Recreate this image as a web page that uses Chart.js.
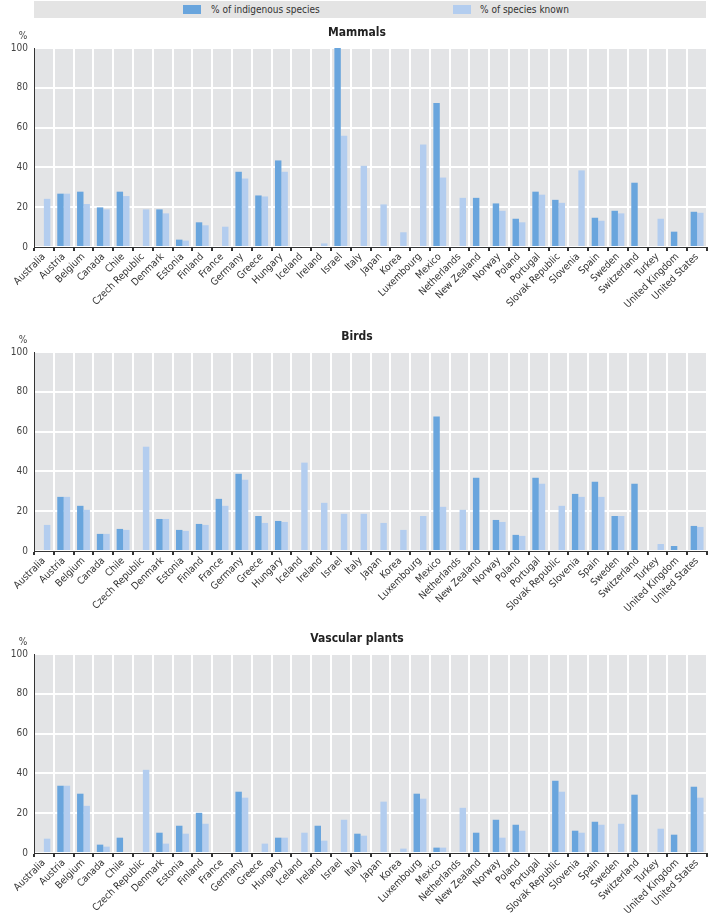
<!DOCTYPE html>
<html>
<head>
<meta charset="utf-8">
<script src="https://cdn.jsdelivr.net/npm/chart.js@4"></script>
<style>
    body { margin: 0; background: #fff; width: 720px; height: 917px; position: relative; overflow: hidden; }
    .legende {
        position: absolute; left: 34px; top: 1px; width: 672px; height: 17px;
        background: #e4e4e4; font: 10px "Liberation Sans Narrow", "DejaVu Sans Condensed", Arial, sans-serif; color: #333;
    }
    .legende span { position: absolute; top: 3px; }
    .legende i { position: absolute; top: 4px; width: 18px; height: 9px; }
    .painel { position: absolute; left: 0; width: 720px; height: 302px; }
</style>
</head>
<body>
<div class="legende">
    <i style="left:149px;background:#69a5dd"></i><span style="left:177px">% of indigenous species</span>
    <i style="left:419px;background:#b3cdef"></i><span style="left:446px">% of species known</span>
</div>
<div class="painel" style="top:20px"><canvas id="graficoMamiferos"></canvas></div>
<div class="painel" style="top:324px"><canvas id="graficoAves"></canvas></div>
<div class="painel" style="top:626px"><canvas id="graficoPlantas"></canvas></div>
<script>
const paises = ["Australia", "Austria", "Belgium", "Canada", "Chile", "Czech Republic", "Denmark", "Estonia",
    "Finland", "France", "Germany", "Greece", "Hungary", "Iceland", "Ireland", "Israel", "Italy", "Japan",
    "Korea", "Luxembourg", "Mexico", "Netherlands", "New Zealand", "Norway", "Poland", "Portugal",
    "Slovak Republic", "Slovenia", "Spain", "Sweden", "Switzerland", "Turkey", "United Kingdom", "United States"];

const ticksY = [0, 20, 40, 60, 80, 100];

const mamiferosIndigenas = [null, 26.8, 27.8, 19.9, 27.8, null, 18.9, 3.7, 12.4, null, 37.8, 25.9, 43.5, null, null, 100,
    null, null, null, null, 72.4, null, 24.7, 21.9, 14.2, 27.8, 23.7, null, 14.7, 18.2, 32.3, null, 7.7, 17.7];
const mamiferosConhecidas = [24.2, 26.8, 21.6, 18.9, 25.6, 18.9, 16.9, 3.2, 10.9, 10.2, 34.4, 25.4, 37.8, null, 1.8, 55.9,
    40.8, 21.4, 7.4, 51.5, 34.9, 24.7, null, 18.2, 12.4, 26.3, 22.2, 38.5, 13.2, 16.9, null, 14.2, null, 17.2];

const avesIndigenas = [null, 27.2, 22.7, 8.6, 11.1, null, 16.1, 10.6, 13.6, 26.2, 38.8, 17.6, 15.1, null, null, null,
    null, null, null, null, 67.6, null, 36.8, 15.6, 8.1, 36.8, null, 28.7, 34.8, 17.6, 33.8, null, 2.5, 12.6];
const avesConhecidas = [13.1, 27.2, 20.7, 8.6, 10.6, 52.4, 16.1, 10.1, 13.1, 22.7, 35.8, 14.1, 14.6, 44.4, 24.2, 18.7,
    18.7, 14.1, 10.6, 17.6, 22.2, 20.7, null, 14.6, 7.6, 33.8, 22.7, 27.2, 27.2, 17.6, null, 3.5, null, 12.1];

const plantasIndigenas = [null, 33.8, 29.8, 4.2, 7.7, null, 10.2, 13.7, 20.2, null, 30.8, null, 7.7, null, 13.7, null,
    9.7, null, null, 29.8, 2.7, null, 10.2, 16.7, 14.2, null, 36.3, 11.2, 15.7, null, 29.3, null, 9.2, 33.3];
const plantasConhecidas = [7.2, 33.8, 23.7, 3.2, null, 41.8, 4.7, 9.7, 14.7, null, 27.8, 4.7, 7.7, 10.2, 6.2, 16.7,
    8.7, 25.8, 2.2, 27.3, 2.7, 22.7, null, 7.7, 11.2, null, 30.8, 10.2, 14.2, 14.7, null, 12.2, null, 27.8];

const FONTE = "'Liberation Sans Narrow', 'DejaVu Sans Condensed', Arial, sans-serif";

// fundo cinza da area do grafico + titulo + "%"
const decoracaoPainel = {
    id: "decoracaoPainel",
    beforeDraw(chart, args, opts) {
        const { ctx, chartArea } = chart;
        ctx.save();
        ctx.fillStyle = "#e3e4e6";
        ctx.fillRect(chartArea.left, chartArea.top, chartArea.right - chartArea.left, chartArea.bottom - chartArea.top);
        ctx.restore();
    },
    afterDraw(chart, args, opts) {
        const { ctx, chartArea } = chart;
        ctx.save();
        ctx.textAlign = "center";
        ctx.textBaseline = "middle";
        ctx.fillStyle = "#222";
        ctx.font = "bold 12px " + FONTE;
        ctx.fillText(opts.titulo, 357, chartArea.top - 15);
        ctx.fillStyle = "#444";
        ctx.font = "10px " + FONTE;
        ctx.fillText("%", 23, chartArea.top - 12);
        ctx.restore();
    },
};

function renderPainel(id, titulo, indigenas, conhecidas) {
    const ctx = document.getElementById(id);
    new Chart(ctx, {
        type: "bar",
        data: {
            labels: paises,
            datasets: [
                { label: "% of indigenous species", data: indigenas, backgroundColor: "#69a5dd" },
                { label: "% of species known", data: conhecidas, backgroundColor: "#b3cdef" },
            ],
        },
        options: {
            responsive: true,
            maintainAspectRatio: false,
            animation: false,
            datasets: { bar: { categoryPercentage: 0.65, barPercentage: 1.0 } },
            layout: { padding: { top: 28, right: 13, left: 0, bottom: 0 } },
            plugins: {
                legend: { display: false },
                tooltip: { enabled: false },
                decoracaoPainel: { titulo },
            },
            scales: {
                x: {
                    grid: { color: "#ffffff", lineWidth: 2, tickColor: "#333", tickLength: 4, offset: true },
                    border: { color: "#333", width: 1 },
                    ticks: {
                        maxRotation: 45, minRotation: 45, autoSkip: false, padding: 0,
                        color: "#333", font: { family: FONTE, size: 10 },
                    },
                    afterFit(scale) { scale.height = 75; },
                },
                y: {
                    min: 0,
                    max: 100,
                    afterBuildTicks(scale) { scale.ticks = ticksY.map((v) => ({ value: v })); },
                    grid: { color: "#ffffff", lineWidth: 2, drawTicks: false },
                    border: { color: "#333", width: 1 },
                    ticks: { padding: 6, color: "#444", font: { family: FONTE, size: 10 } },
                    afterFit(scale) { scale.width = 34; },
                },
            },
        },
        plugins: [decoracaoPainel],
    });
}

renderPainel("graficoMamiferos", "Mammals", mamiferosIndigenas, mamiferosConhecidas);
renderPainel("graficoAves", "Birds", avesIndigenas, avesConhecidas);
renderPainel("graficoPlantas", "Vascular plants", plantasIndigenas, plantasConhecidas);
</script>
</body>
</html>
